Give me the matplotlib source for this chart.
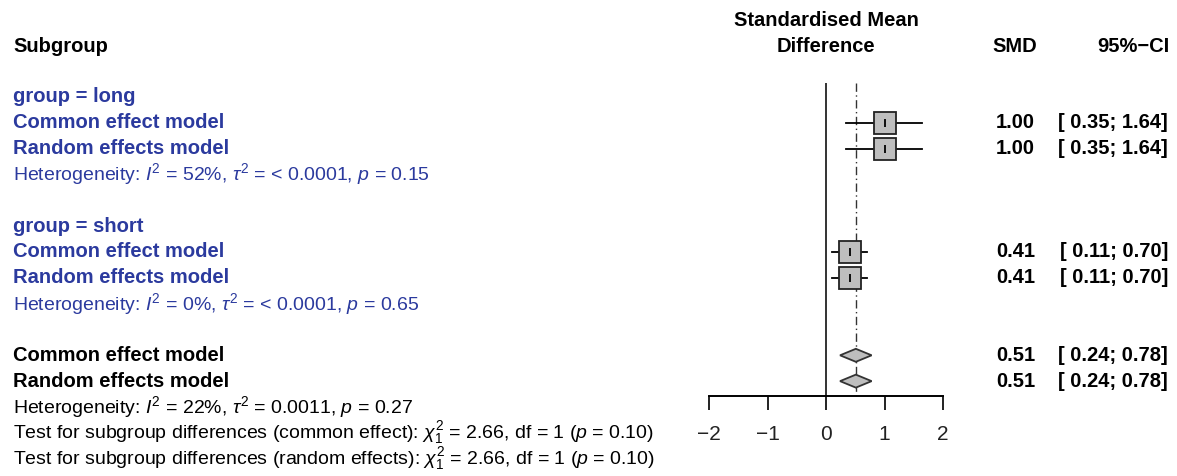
import numpy as np
import matplotlib.pyplot as plt
import matplotlib.transforms as mtransforms

plt.rcParams['font.family'] = ['Liberation Sans', 'DejaVu Sans']
plt.rcParams['mathtext.fontset'] = 'custom'
plt.rcParams['mathtext.rm'] = 'Liberation Sans'
plt.rcParams['mathtext.it'] = 'Liberation Sans:italic'
plt.rcParams['mathtext.bf'] = 'Liberation Sans:bold'

# summary estimates (SMD with 95% CI)
sub_rows = [1, 2, 6, 7]
sub_smd = [1.00, 1.00, 0.41, 0.41]
sub_lo = [0.35, 0.35, 0.11, 0.11]
sub_hi = [1.64, 1.64, 0.70, 0.70]

tot_rows = [10, 11]
tot_smd = [0.51, 0.51]
tot_lo = [0.24, 0.24]
tot_hi = [0.78, 0.78]

group_rows = [0, 5]
group_labels = ['group = long', 'group = short']
model_labels = ['Common effect model', 'Random effects model']
het_rows = [3, 8]
het_labels = [r'Heterogeneity: $I^2$ = 52%, $\tau^2$ = < 0.0001, $p$ = 0.15',
              r'Heterogeneity: $I^2$ = 0%, $\tau^2$ = < 0.0001, $p$ = 0.65']
foot_rows = [12, 13, 14]
foot_labels = [r'Heterogeneity: $I^2$ = 22%, $\tau^2$ = 0.0011, $p$ = 0.27',
               r'Test for subgroup differences (common effect): $\chi^2_1$ = 2.66, df = 1 ($p$ = 0.10)',
               r'Test for subgroup differences (random effects): $\chi^2_1$ = 2.66, df = 1 ($p$ = 0.10)']
xticks = [-2, -1, 0, 1, 2]

W, H = 1177, 476
blue = '#2B3A9E'
grey = '#BEBEBE'
row_px, row0_px = 25.83, 97


def px_row(y):
    # pixel height in the figure -> row units
    return (y - row0_px) / row_px


fig = plt.figure(figsize=(W / 100, H / 100), dpi=100)
# forest panel: x spans -2..2, y in row units over the full figure height
ax = fig.add_axes([709 / W, 0, (943 - 709) / W, 1])
ax.set_xlim(-2, 2)
ax.set_ylim(px_row(H), px_row(0))
ax.patch.set_visible(False)
for s in ['top', 'left', 'right']:
    ax.spines[s].set_visible(False)
axis_row = px_row(396)
top_row = px_row(83)
ax.spines['bottom'].set_position(('data', axis_row))
ax.spines['bottom'].set_linewidth(1.4)
ax.set_yticks([])
ax.set_xticks(xticks)
ax.set_xticklabels([str(t).replace('-', '\u2212') for t in xticks], fontsize=15)
ax.tick_params(axis='x', direction='out', length=10, width=1.4, pad=11, colors='#222222')

# reference lines
ax.vlines(0, top_row, axis_row, color='#333333', lw=1.4)
ax.vlines(tot_smd[0], top_row, axis_row, color='#333333', lw=1, linestyles=(0, (6, 2.5, 1, 2.5)))

# subgroup squares with CI
for r, m, lo, hi in zip(sub_rows, sub_smd, sub_lo, sub_hi):
    ax.plot([lo, hi], [r, r], color='black', lw=1.3, zorder=2)
    ax.plot(m, r, marker='s', ms=15.5, mfc=grey, mec='#222222', mew=1.3, zorder=3)
    ax.plot(m, r, marker='|', ms=6, color='black', mew=1.3, zorder=4)

# overall diamonds
h = 6.5 / row_px
for r, m, lo, hi in zip(tot_rows, tot_smd, tot_lo, tot_hi):
    ax.fill([lo, m, hi, m], [r, r - h, r, r + h], facecolor=grey, edgecolor='#333333', lw=1.3, zorder=3)

# text columns
tr = mtransforms.blended_transform_factory(fig.transFigure, ax.transData)
lx = 13 / W
fs_b, fs_r = 14.5, 14
hdr_row = px_row(47)
ax.text(lx, hdr_row, 'Subgroup', transform=tr, fontsize=fs_b, fontweight='bold', va='center')
ax.text(0, px_row(20), 'Standardised Mean', fontsize=fs_b, fontweight='bold', ha='center', va='center')
ax.text(0, hdr_row, 'Difference', fontsize=fs_b, fontweight='bold', ha='center', va='center')
ax.text(1037 / W, hdr_row, 'SMD', transform=tr, fontsize=fs_b, fontweight='bold', ha='right', va='center')
ax.text(1170 / W, hdr_row, '95%\u2212CI', transform=tr, fontsize=fs_b, fontweight='bold', ha='right', va='center')

for r, lab in zip(group_rows, group_labels):
    ax.text(lx, r, lab, transform=tr, fontsize=fs_b, fontweight='bold', color=blue, va='center')
for i, r in enumerate(sub_rows):
    ax.text(lx, r, model_labels[i % 2], transform=tr, fontsize=fs_b, fontweight='bold', color=blue, va='center')
for r, lab in zip(het_rows, het_labels):
    ax.text(lx, r, lab, transform=tr, fontsize=fs_r, color=blue, va='center')
for i, r in enumerate(tot_rows):
    ax.text(lx, r, model_labels[i], transform=tr, fontsize=fs_b, fontweight='bold', va='center')
for r, lab in zip(foot_rows, foot_labels):
    ax.text(lx, r, lab, transform=tr, fontsize=fs_r, va='center')

for r, m, lo, hi in zip(sub_rows + tot_rows, sub_smd + tot_smd, sub_lo + tot_lo, sub_hi + tot_hi):
    ax.text(1035 / W, r, f'{m:.2f}', transform=tr, fontsize=fs_b, fontweight='bold', ha='right', va='center')
    ax.text(1168 / W, r, f'[{lo:5.2f}; {hi:.2f}]', transform=tr, fontsize=fs_b, fontweight='bold',
            ha='right', va='center')

fig.savefig('out.png', dpi=100)
